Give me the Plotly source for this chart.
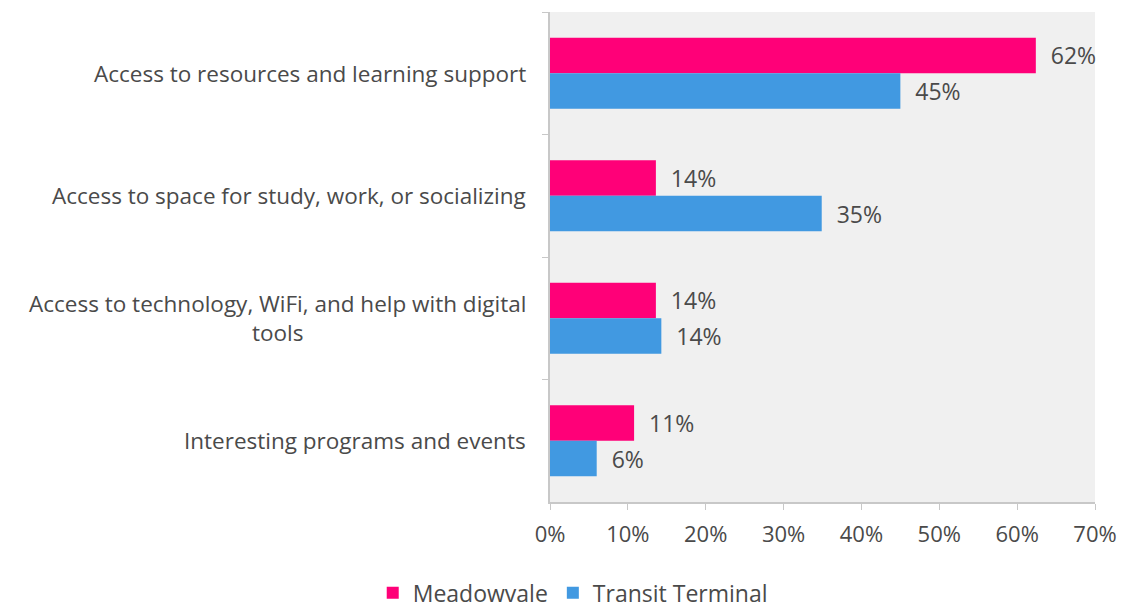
import plotly.graph_objects as go

# Survey results: what respondents value most, by location
categories = [
    "Access to resources and learning support",
    "Access to space for study, work, or socializing",
    "Access to technology, WiFi, and help with digital<br>tools",
    "Interesting programs and events",
]
meadowvale = [62.4, 13.6, 13.6, 10.8]
transit_terminal = [45.0, 34.9, 14.3, 6.0]

x_ticks = [0, 10, 20, 30, 40, 50, 60, 70]

PINK = "#ff0078"
BLUE = "#4199e1"
TEXT = "#4a4a4a"
AXIS = "#c8c8c8"
FONT = "Open Sans"

fig = go.Figure()
for name, vals, color in [("Meadowvale", meadowvale, PINK),
                          ("Transit Terminal", transit_terminal, BLUE)]:
    fig.add_trace(go.Bar(
        name=name, y=categories, x=vals, orientation="h",
        marker=dict(color=color, line=dict(width=0)),
        texttemplate="\u00a0\u00a0%{x:.0f}%", textposition="outside",
        textfont=dict(family=FONT, size=23, color=TEXT), cliponaxis=False,
    ))

# Category labels drawn as centred, right-anchored annotations
for cat in categories:
    fig.add_annotation(
        text=cat, xref="paper", x=0, xanchor="right", xshift=-22,
        yref="y", y=cat, yanchor="middle", align="center", showarrow=False,
        font=dict(family=FONT, size=22.5, color=TEXT),
    )

fig.update_layout(
    width=1123, height=608,
    margin=dict(l=550, r=28, t=12, b=106, autoexpand=False),
    paper_bgcolor="white", plot_bgcolor="#f0f0f0",
    barmode="group", bargap=0.42, bargroupgap=0,
    font=dict(family=FONT, size=22, color=TEXT),
    showlegend=True,
    legend=dict(
        orientation="h", xref="container", yref="container",
        x=0.51, xanchor="center", y=0.025, yanchor="middle",
        font=dict(family=FONT, size=23, color=TEXT),
        itemwidth=30, traceorder="normal",
    ),
)
fig.update_xaxes(
    range=[0, 70], tickvals=x_ticks, ticktext=[f"{v}%" for v in x_ticks],
    showgrid=False, zeroline=False, showline=True, linecolor=AXIS, linewidth=1.5,
    ticks="outside", ticklen=6, tickcolor=AXIS, ticklabelstandoff=6,
    tickfont=dict(family=FONT, size=22, color=TEXT), automargin=False,
)
fig.update_yaxes(
    autorange="reversed", showticklabels=False, showgrid=False,
    showline=True, linecolor=AXIS, linewidth=1.5,
    ticks="outside", ticklen=6, tickcolor=AXIS, tickson="boundaries",
    automargin=False,
)

fig.write_html("out.html")
